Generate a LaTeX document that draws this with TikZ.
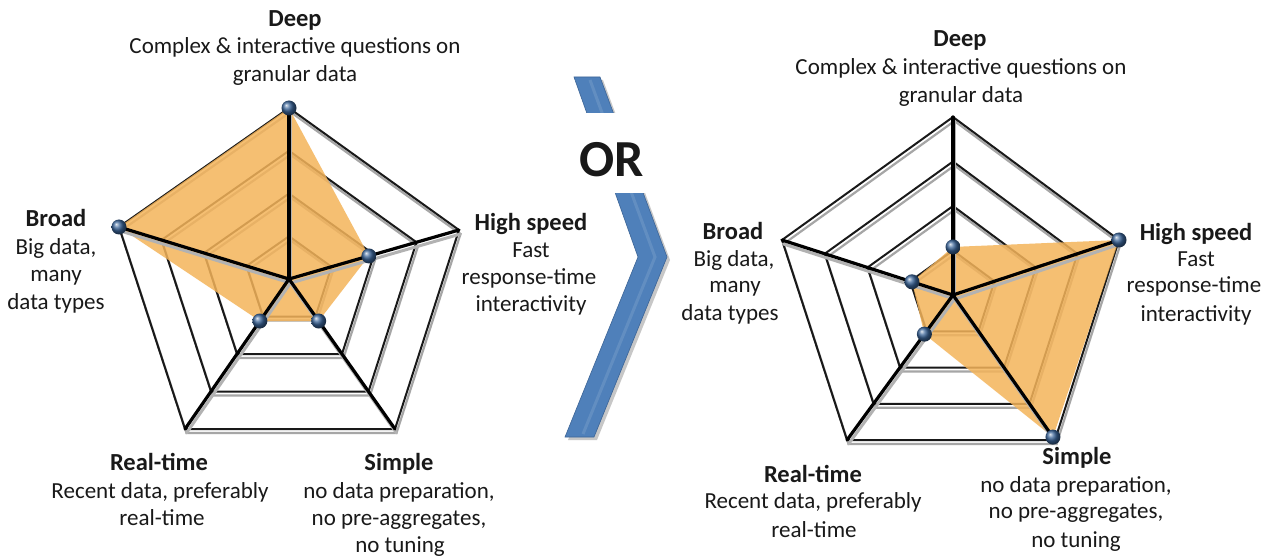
\documentclass[tikz,border=0pt]{standalone}
\usepackage{fontspec}
\setmainfont{Carlito}
\usetikzlibrary{calc}
\definecolor{txt}{rgb}{0.1,0.1,0.1}
\definecolor{orfill}{RGB}{244,180,90}
\definecolor{dotblue}{RGB}{58,100,152}
\definecolor{chevblue}{RGB}{79,128,186}
\definecolor{chevdark}{RGB}{60,100,150}
\tikzset{
  head/.style={font=\fontsize{24.5}{28}\selectfont\bfseries, anchor=base, inner sep=0pt, text=txt},
  body/.style={font=\fontsize{23}{27.6}\selectfont, anchor=base, inner sep=0pt, text=txt},
  ring/.style={draw=black!90, line width=2pt, line join=miter},
  ringsh/.style={draw=black!35, line width=2.2pt, line join=miter},
  spoke/.style={draw=black, line width=3.2pt, line cap=round},
  spokesh/.style={draw=black!30, line width=3pt, line cap=round},
  area/.style={fill=orfill, fill opacity=0.85},
  dot/.style={ball color=dotblue},
}
\begin{document}
\begin{tikzpicture}[x=1pt,y=-1pt]
\useasboundingbox (0,0) rectangle (1275,556);
\fill[white] (0,0) rectangle (1275,556);

% ---------------- left chart ----------------
\coordinate (LC) at (289,279);
\coordinate (L1) at (289,108);
\coordinate (L2) at (459,230);
\coordinate (L3) at (395,429);
\coordinate (L4) at (185,429);
\coordinate (L5) at (119,227);
% ---------------- right chart ----------------
\coordinate (RC) at (953,295);
\coordinate (R1) at (953,117);
\coordinate (R2) at (1119,240);
\coordinate (R3) at (1055,440);
\coordinate (R4) at (847,440);
\coordinate (R5) at (782,240);

\foreach \c in {L,R}{
  \foreach \f in {0.25,0.5,0.75,1}{
    \draw[ringsh] ($(\c C)!\f!(\c 1)+(1.5,4)$) -- ($(\c C)!\f!(\c 2)+(1.5,4)$) -- ($(\c C)!\f!(\c 3)+(1.5,4)$) -- ($(\c C)!\f!(\c 4)+(1.5,4)$) -- ($(\c C)!\f!(\c 5)+(1.5,4)$) -- cycle;
    \draw[ring] ($(\c C)!\f!(\c 1)$) -- ($(\c C)!\f!(\c 2)$) -- ($(\c C)!\f!(\c 3)$) -- ($(\c C)!\f!(\c 4)$) -- ($(\c C)!\f!(\c 5)$) -- cycle;
  }
}

% data areas
\coordinate (LP1) at ($(LC)!1!(L1)$);
\coordinate (LP2) at ($(LC)!0.47!(L2)$);
\coordinate (LP3) at ($(LC)!0.28!(L3)$);
\coordinate (LP4) at ($(LC)!0.28!(L4)$);
\coordinate (LP5) at ($(LC)!1!(L5)$);
\coordinate (RP1) at ($(RC)!0.27!(R1)$);
\coordinate (RP2) at ($(RC)!1!(R2)$);
\coordinate (RP3) at ($(RC)!0.98!(R3)$);
\coordinate (RP4) at ($(RC)!0.27!(R4)$);
\coordinate (RP5) at ($(RC)!0.24!(R5)$);
\fill[area] (LP1) -- (LP2) -- (LP3) -- (LP4) -- (LP5) -- cycle;
\fill[area] (RP1) -- (RP2) -- (RP3) -- (RP4) -- (RP5) -- cycle;

\foreach \c in {L,R}{
  \foreach \i in {1,...,5}{
    \draw[spokesh] ($(\c C)+(1.5,4)$) -- ($(\c \i)+(1.5,4)$);
  }
  \foreach \i in {1,...,5}{
    \draw[spoke] (\c C) -- (\c \i);
  }
  \foreach \i in {1,...,5}{
    \shade[dot] (\c P\i) circle (7.5);
  }
}

% ---------------- chevron and OR ----------------
\fill[black!22] (577,80) -- (603,80) -- (670,260) -- (597,440) -- (568,440) -- (641,260) -- cycle;
\fill[chevblue, draw=chevdark, line width=0.6pt] (574,77) -- (600,77) -- (667,257) -- (594,437) -- (565,437) -- (638,257) -- cycle;
\draw[chevblue!75!white, line width=3pt, opacity=0.45, line join=miter] (590,80) -- (655,257) -- (583,434);
\fill[white] (555,113) rectangle (680,193);
\node[font=\fontsize{52}{60}\selectfont\bfseries, anchor=base, inner sep=0pt, text=txt] (or) at (612,177) {OR};

% ---------------- left labels ----------------
\node[head] (ldeep) at (295,27) {Deep};
\node[body] (ldeep1) at (295,54) {Complex \& interactive questions on};
\node[body] (ldeep2) at (295,82) {granular data};
\node[head] (lbroad) at (56,227) {Broad};
\node[body] (lbroad1) at (56,255) {Big data,};
\node[body] (lbroad2) at (56,282) {many};
\node[body] (lbroad3) at (56,309) {data types};
\node[head] (lhigh) at (531,231) {High speed};
\node[body] (lhigh1) at (531,258) {Fast};
\node[body] (lhigh2) at (529,284) {response-time};
\node[body] (lhigh3) at (531,312) {interactivity};
\node[head] (lreal) at (159,470) {Real-time};
\node[body] (lreal1) at (160,498) {Recent data, preferably};
\node[body] (lreal2) at (162,525) {real-time};
\node[head] (lsimp) at (399,470) {Simple};
\node[body] (lsimp1) at (399,498) {no data preparation,};
\node[body] (lsimp2) at (399,525) {no pre-aggregates,};
\node[body] (lsimp3) at (400,552) {no tuning};

% ---------------- right labels ----------------
\node[head] (rdeep) at (960,47) {Deep};
\node[body] (rdeep1) at (961,75) {Complex \& interactive questions on};
\node[body] (rdeep2) at (961,103) {granular data};
\node[head] (rbroad) at (733,240) {Broad};
\node[body] (rbroad1) at (734,267) {Big data,};
\node[body] (rbroad2) at (735,293) {many};
\node[body] (rbroad3) at (730,320) {data types};
\node[head] (rhigh) at (1196,241) {High speed};
\node[body] (rhigh1) at (1196,267) {Fast};
\node[body] (rhigh2) at (1194,293) {response-time};
\node[body] (rhigh3) at (1196,321) {interactivity};
\node[head] (rreal) at (813,482) {Real-time};
\node[body] (rreal1) at (813,508) {Recent data, preferably};
\node[body] (rreal2) at (814,537) {real-time};
\node[head] (rsimp) at (1077,464) {Simple};
\node[body] (rsimp1) at (1076,492) {no data preparation,};
\node[body] (rsimp2) at (1076,518) {no pre-aggregates,};
\node[body] (rsimp3) at (1076,547) {no tuning};
\end{tikzpicture}
\end{document}
